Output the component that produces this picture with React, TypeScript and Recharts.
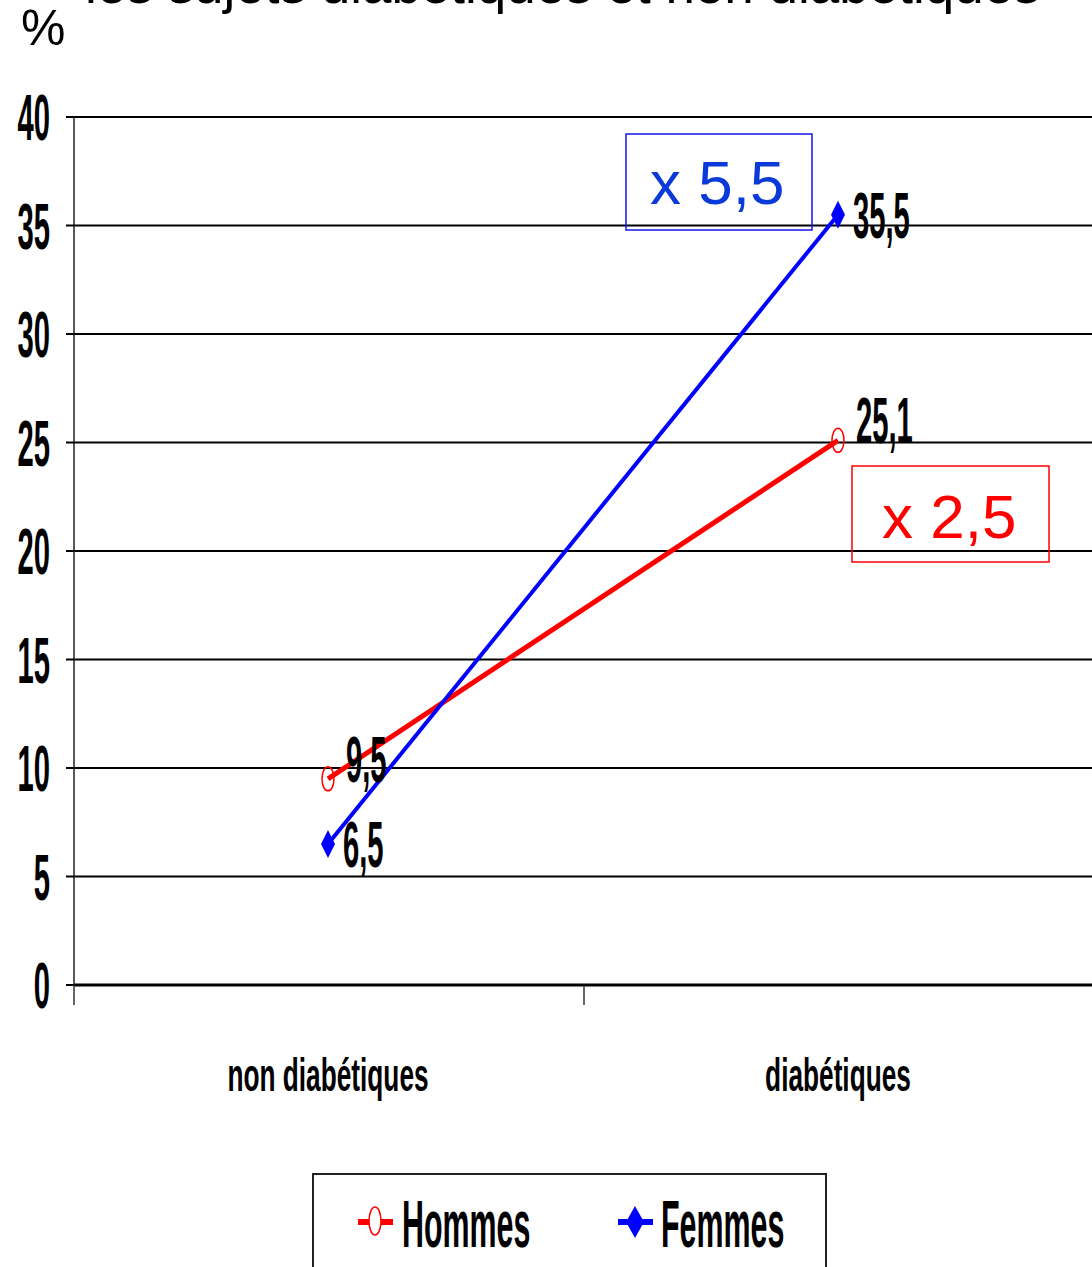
import React from 'react';
import {
  LineChart,
  Line,
  XAxis,
  YAxis,
  CartesianGrid,
  LabelList,
} from 'recharts';

const categories = ['non diabétiques', 'diabétiques'];
const hommes = [9.5, 25.1];
const femmes = [6.5, 35.5];
const yTicks = [0, 5, 10, 15, 20, 25, 30, 35, 40];
const ratios = { hommes: 'x 2,5', femmes: 'x 5,5' };

const data = categories.map((cat, i) => ({
  cat,
  hommes: hommes[i],
  femmes: femmes[i],
}));

const W = 1100;
const H = 1267;
const MARGIN = { top: 117, right: 8, bottom: 182, left: 0 };
const Y_AXIS_W = 74;
const X_AXIS_H = 100;
const PLOT_BOTTOM = H - MARGIN.bottom - X_AXIS_H;
const HALF_BAND = 254;

const RED = '#ff0000';
const BLUE = '#0000ff';
const FONT = '"Liberation Sans", Arial, sans-serif';

// bold text squeezed horizontally and stretched vertically
const Tall = ({ x, y, text, size = 40, sx = 0.73, sy = 1.6, anchor = 'start' }: any) => (
  <text
    transform={`translate(${x},${y}) scale(${sx},${sy})`}
    fontFamily={FONT}
    fontWeight="bold"
    fontSize={size}
    fill="#000"
    textAnchor={anchor}
  >
    {text}
  </text>
);

const YTick = ({ x, y, payload }: any) => (
  <Tall x={x} y={y + 23} text={payload.value} anchor="end" />
);

const XTick = ({ x, payload }: any) => (
  <g>
    <line x1={x - HALF_BAND} x2={x - HALF_BAND} y1={PLOT_BOTTOM} y2={PLOT_BOTTOM + 20} stroke="#333" strokeWidth={1.5} />
    <Tall x={x} y={PLOT_BOTTOM + 106} text={payload.value} size={32} sx={0.82} sy={1.42} anchor="middle" />
  </g>
);

const Circle = ({ cx, cy, index }: any) => (
  <ellipse key={index} cx={cx} cy={cy} rx={6} ry={12} fill="#fff" fillOpacity={0} stroke={RED} strokeWidth={1.5} />
);

const diamond = (cx: number, cy: number, w: number, h: number) =>
  `M${cx},${cy - h} L${cx + w},${cy} L${cx},${cy + h} L${cx - w},${cy} Z`;

const Diamond = ({ cx, cy, index }: any) => (
  <path key={index} d={diamond(cx, cy, 7, 14)} fill={BLUE} />
);

const fmt = (v: number) => String(v).replace('.', ',');

const HommesLabel = ({ x, y, value }: any) => (
  <Tall x={x + 18} y={y + 3} text={fmt(value)} />
);

const FemmesLabel = ({ x, y, value }: any) => (
  <Tall x={x + 15} y={y + 23} text={fmt(value)} />
);

export default function App() {
  return (
    <div style={{ position: 'absolute', left: 0, top: 0, width: 1092, height: H, overflow: 'hidden', background: '#fff' }}>
      <LineChart width={W} height={H} data={data} margin={MARGIN}>
        <CartesianGrid horizontal vertical={false} stroke="#000" strokeWidth={2} />
        <XAxis
          dataKey="cat"
          type="category"
          height={X_AXIS_H}
          padding={{ left: HALF_BAND, right: HALF_BAND }}
          axisLine={{ stroke: '#000', strokeWidth: 3 }}
          tickLine={false}
          tick={<XTick />}
          interval={0}
        />
        <YAxis
          width={Y_AXIS_W}
          domain={[0, 40]}
          ticks={yTicks}
          interval={0}
          tickSize={8}
          tickMargin={16}
          axisLine={{ stroke: '#222', strokeWidth: 1.5 }}
          tickLine={{ stroke: '#000', strokeWidth: 2 }}
          tick={<YTick />}
        />
        <Line
          dataKey="hommes"
          stroke={RED}
          strokeWidth={5}
          dot={Circle}
          activeDot={false}
          isAnimationActive={false}
        >
          <LabelList dataKey="hommes" content={<HommesLabel />} />
        </Line>
        <Line
          dataKey="femmes"
          stroke={BLUE}
          strokeWidth={4}
          dot={Diamond}
          activeDot={false}
          isAnimationActive={false}
        >
          <LabelList dataKey="femmes" content={<FemmesLabel />} />
        </Line>
      </LineChart>

      <svg width={1092} height={H} style={{ position: 'absolute', left: 0, top: 0, pointerEvents: 'none' }}>
        <text x={85} y={3} fontFamily={FONT} fontSize={53} fill="#000">
          les sujets diabétiques et non diabétiques
        </text>
        <text x={21} y={45} fontFamily={FONT} fontSize={50} fill="#000">%</text>

        <rect x={626} y={134} width={186} height={96} fill="none" stroke="#1515f0" strokeWidth={1.5} />
        <text x={650} y={204} fontFamily={FONT} fontSize={62} fill="#0a3ad8">{ratios.femmes}</text>

        <rect x={852} y={466} width={197} height={96} fill="none" stroke={RED} strokeWidth={1.5} />
        <text x={882} y={538} fontFamily={FONT} fontSize={62} fill={RED}>{ratios.hommes}</text>

        <rect x={313} y={1174} width={513} height={120} fill="#fff" stroke="#222" strokeWidth={2} />
        <line x1={358} x2={393} y1={1222} y2={1222} stroke={RED} strokeWidth={6} />
        <ellipse cx={375} cy={1221} rx={6} ry={14} fill="#fff" stroke={RED} strokeWidth={1.5} />
        <Tall x={402} y={1247} text="Hommes" sx={0.76} sy={1.65} />
        <line x1={618} x2={653} y1={1222} y2={1222} stroke={BLUE} strokeWidth={6} />
        <path d={diamond(635, 1222, 9, 16)} fill={BLUE} />
        <Tall x={661} y={1247} text="Femmes" sx={0.76} sy={1.65} />
      </svg>
    </div>
  );
}
